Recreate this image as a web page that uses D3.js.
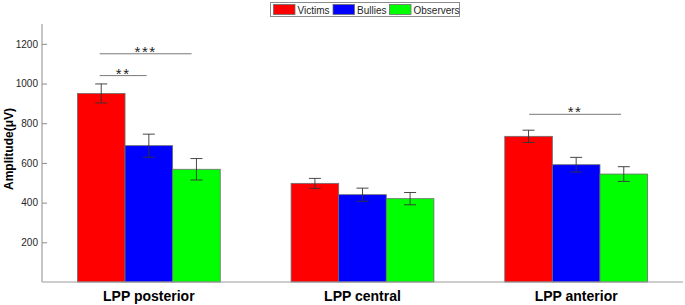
<!DOCTYPE html>
<html>
<head>
<meta charset="utf-8">
<script src="https://cdn.jsdelivr.net/npm/d3@7"></script>
<style>
  body { margin: 0; background: #fff; }
  text { font-family: "Liberation Sans", Arial, sans-serif; }
</style>
</head>
<body>
<svg id="chart" width="685" height="305"></svg>
<script>
// data
var categories = ["LPP posterior", "LPP central", "LPP anterior"]
var groups = ["Victims", "Bullies", "Observers"]
var colours = ["#ff0000", "#0000ff", "#00ff00"]

var victims   = [950, 497, 734]
var bullies   = [687, 440, 591]
var observers = [568, 420, 544]

var victims_se   = [48, 25, 31]
var bullies_se   = [58, 33, 37]
var observers_se = [54, 31, 37]

var y_ticks = [200, 400, 600, 800, 1000, 1200]

// significance bars: x in category units, y in µV
var sig_x1 = [0.77, 0.77, 2.78]
var sig_x2 = [0.99, 1.20, 3.21]
var sig_y  = [1040, 1150, 845]
var sig_lbl = ["**", "***", "**"]

var series = [victims, bullies, observers]
var errors = [victims_se, bullies_se, observers_se]

/// layout  (note: "top" is taken by window.top, so plot_ prefix)
var plot_left = 42, plot_right = 683, plot_top = 24, plot_bottom = 282
var svg = d3.select("#chart")

var x = d3.scaleLinear().domain([0.5, 3.5]).range([plot_left, plot_right])
var y = d3.scaleLinear().domain([0, 1300]).range([plot_bottom, plot_top])

var bw = 0.2228   // bar width in category units
var offsets = [-bw, 0, bw]

// bars
series.forEach(function(vals, g) {
  svg.append("g").selectAll("rect")
    .data(vals)
    .enter()
    .append("rect")
      .attr("x", function(d, i) { return x(i + 1 + offsets[g] - bw / 2) })
      .attr("width", x(bw) - x(0))
      .attr("y", function(d) { return y(d) })
      .attr("height", function(d) { return y(0) - y(d) })
      .attr("fill", colours[g])
      .attr("stroke", "#6e6e6e")
      .attr("stroke-width", 0.8)
})

// error bars
series.forEach(function(vals, g) {
  var eg = svg.append("g").attr("stroke", "#333").attr("stroke-width", 0.9)
  vals.forEach(function(v, i) {
    var cx = x(i + 1 + offsets[g])
    var lo = y(v - errors[g][i]), hi = y(v + errors[g][i])
    eg.append("line").attr("x1", cx).attr("x2", cx).attr("y1", lo).attr("y2", hi)
    eg.append("line").attr("x1", cx - 6).attr("x2", cx + 6).attr("y1", lo).attr("y2", lo)
    eg.append("line").attr("x1", cx - 6).attr("x2", cx + 6).attr("y1", hi).attr("y2", hi)
  })
})

// axes
var yAxis = svg.append("g")
  .attr("transform", "translate(" + plot_left + ",0)")
  .call(d3.axisRight(y).tickValues(y_ticks).tickSize(5).tickFormat(d3.format("d")))
yAxis.select(".domain").attr("d", "M0," + plot_top + "V" + plot_bottom).attr("stroke", "#8c8c8c")
yAxis.selectAll(".tick line").attr("stroke", "#8c8c8c")
yAxis.selectAll(".tick text")
  .attr("x", -4).attr("text-anchor", "end")
  .attr("fill", "#262626").style("font-size", "10px")

svg.append("line")
  .attr("x1", plot_left).attr("x2", plot_right)
  .attr("y1", plot_bottom).attr("y2", plot_bottom)
  .attr("stroke", "#9a9a9a")

svg.selectAll(".catlabel")
  .data(categories)
  .enter()
  .append("text")
    .attr("x", function(d, i) { return x(i + 1) })
    .attr("y", 301)
    .attr("text-anchor", "middle")
    .style("font-size", "14px")
    .style("font-weight", "bold")
    .attr("fill", "#000")
    .text(function(d) { return d })

svg.append("text")
  .attr("transform", "translate(12.5," + 149 + ") rotate(-90)")
  .attr("text-anchor", "middle")
  .style("font-size", "12px")
  .style("font-weight", "bold")
  .text("Amplitude(μV)")

// significance markers
sig_y.forEach(function(v, i) {
  svg.append("line")
    .attr("x1", x(sig_x1[i])).attr("x2", x(sig_x2[i]))
    .attr("y1", y(v)).attr("y2", y(v))
    .attr("stroke", "#7a7a7a").attr("stroke-width", 1)
  svg.append("text")
    .attr("x", (x(sig_x1[i]) + x(sig_x2[i])) / 2)
    .attr("y", y(v) + 3)
    .attr("text-anchor", "middle")
    .style("font-size", "15px")
    .style("letter-spacing", "1.5px")
    .attr("fill", "#222")
    .text(sig_lbl[i])
})

// legend
var lg = svg.append("g")
lg.append("rect")
  .attr("x", 270.5).attr("y", 2.5).attr("width", 189).attr("height", 14)
  .attr("fill", "#fff").attr("stroke", "#8c8c8c")
var sw_x = [273.5, 333, 389.5]
groups.forEach(function(gname, g) {
  lg.append("rect")
    .attr("x", sw_x[g]).attr("y", 4.5).attr("width", 21.5).attr("height", 10)
    .attr("fill", colours[g]).attr("stroke", "#6e6e6e").attr("stroke-width", 0.8)
  lg.append("text")
    .attr("x", sw_x[g] + 24).attr("y", 13.5)
    .style("font-size", "10px")
    .attr("fill", "#262626")
    .text(gname)
})
</script>
</body>
</html>
